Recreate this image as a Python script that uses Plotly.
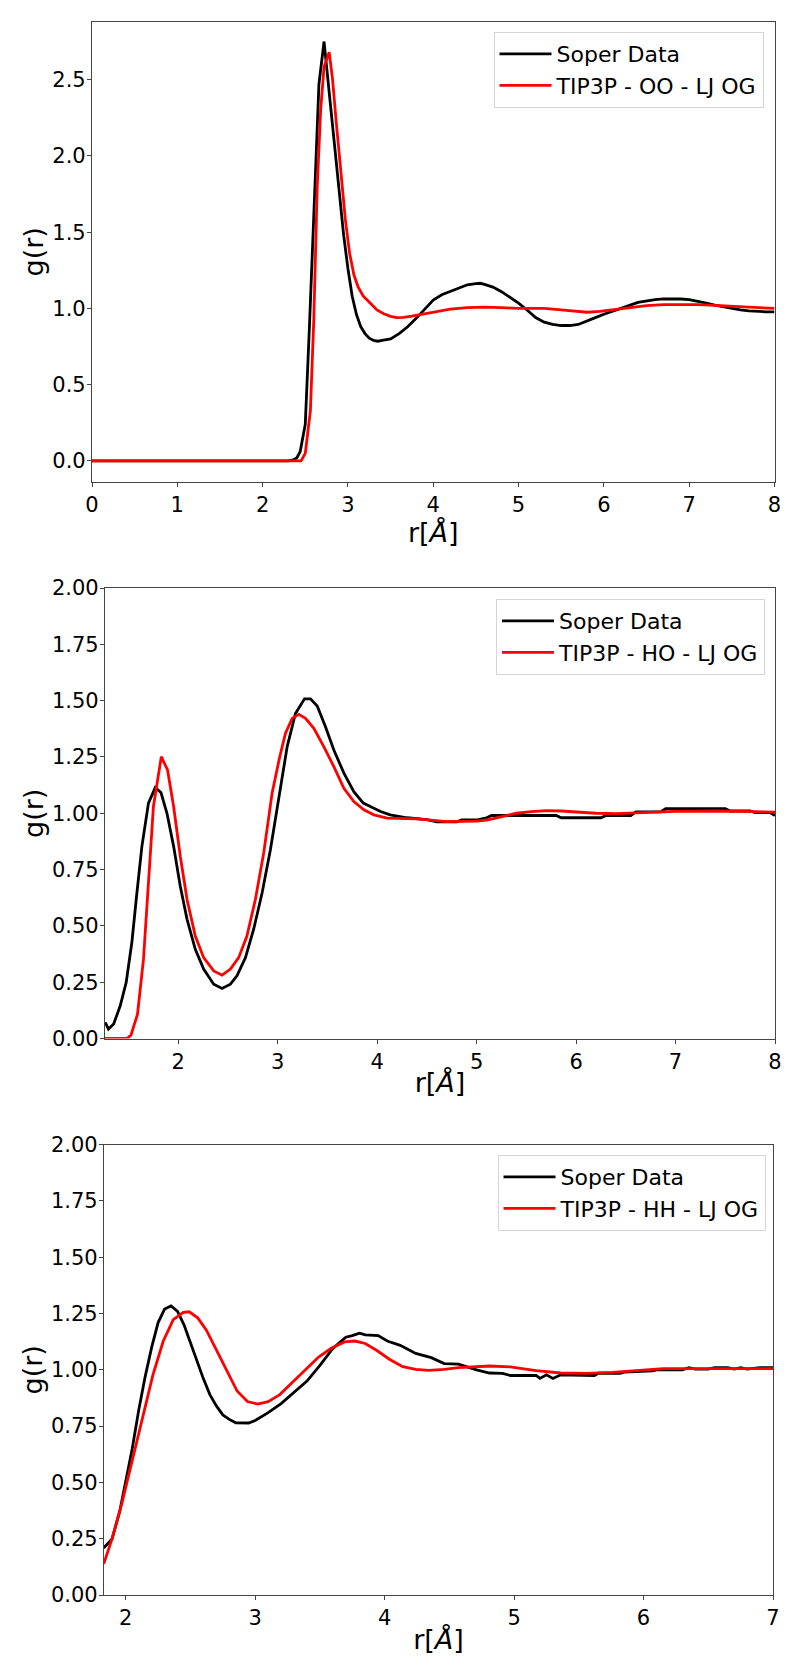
import plotly.graph_objects as go

# ---------------- Panel 1 : O-O ----------------
oo_soper_r = [0.0, 2.3, 2.35, 2.4, 2.44, 2.5, 2.55, 2.6, 2.66, 2.72, 2.77, 2.81, 2.86, 2.9, 2.95,
              3.0, 3.05, 3.1, 3.15, 3.2, 3.25, 3.3, 3.35, 3.4, 3.45, 3.5, 3.6, 3.7, 3.8, 3.9,
              4.0, 4.1, 4.2, 4.3, 4.4, 4.5, 4.55, 4.6, 4.7, 4.8, 4.9, 5.0, 5.1, 5.2, 5.3, 5.4,
              5.5, 5.6, 5.7, 5.8, 5.9, 6.0, 6.1, 6.2, 6.3, 6.4, 6.5, 6.6, 6.7, 6.8, 6.9, 7.0,
              7.1, 7.2, 7.3, 7.4, 7.5, 7.6, 7.7, 7.8, 7.9, 8.0]
oo_soper_g = [0.0, 0.0, 0.005, 0.02, 0.06, 0.24, 0.9, 1.6, 2.47, 2.75, 2.47, 2.24, 1.97, 1.75, 1.48,
              1.26, 1.08, 0.96, 0.88, 0.835, 0.805, 0.79, 0.785, 0.79, 0.795, 0.80, 0.835, 0.88, 0.935, 0.995,
              1.055, 1.09, 1.11, 1.135, 1.155, 1.163, 1.165, 1.158, 1.14, 1.11, 1.075, 1.035, 0.99, 0.94, 0.91, 0.895,
              0.888, 0.888, 0.895, 0.915, 0.94, 0.962, 0.98, 1.0, 1.02, 1.04, 1.05, 1.058, 1.063, 1.063, 1.062, 1.058,
              1.048, 1.035, 1.022, 1.01, 1.0, 0.99, 0.984, 0.98, 0.978, 0.978]

oo_tip3p_r = [0.0, 2.45, 2.5, 2.56, 2.6, 2.64, 2.68, 2.72, 2.78, 2.82, 2.86, 2.9, 2.93, 2.97, 3.02,
              3.07, 3.12, 3.18, 3.26, 3.34, 3.42, 3.5, 3.57, 3.65, 3.75, 3.85, 4.0, 4.2, 4.4, 4.6,
              4.8, 5.0, 5.2, 5.3, 5.5, 5.65, 5.8, 5.95, 6.1, 6.3, 6.5, 6.7, 6.9, 7.1, 7.3, 7.5,
              7.7, 8.0]
oo_tip3p_g = [0.0, 0.0, 0.05, 0.33, 0.93, 1.8, 2.3, 2.585, 2.68, 2.5, 2.24, 1.98, 1.80, 1.58, 1.36,
              1.22, 1.14, 1.08, 1.035, 0.99, 0.965, 0.948, 0.94, 0.942, 0.95, 0.96, 0.978, 0.995, 1.005, 1.008,
              1.005, 1.0, 1.0, 1.0, 0.99, 0.98, 0.975, 0.98, 0.99, 1.005, 1.018, 1.025, 1.027, 1.025, 1.02, 1.013,
              1.007, 1.0]

# ---------------- Panel 2 : H-O ----------------
ho_soper_r = [1.265, 1.298, 1.35, 1.416, 1.476, 1.533, 1.584, 1.634, 1.70, 1.768, 1.826, 1.886, 1.953,
              2.02, 2.088, 2.171, 2.255, 2.356, 2.44, 2.524, 2.59, 2.675, 2.758, 2.843, 2.926, 3.01,
              3.095, 3.178, 3.269, 3.329, 3.397, 3.48, 3.564, 3.665, 3.765, 3.86, 3.934, 4.034, 4.13,
              4.3, 4.5, 4.6, 4.8, 4.85, 5.0, 5.1, 5.15, 5.8, 5.85, 6.25, 6.3, 6.55, 6.6, 6.85, 6.9,
              7.5, 7.55, 7.75, 7.8, 7.95, 8.0]
ho_soper_g = [0.072, 0.042, 0.064, 0.145, 0.249, 0.426, 0.647, 0.853, 1.045, 1.114, 1.092, 1.0, 0.853,
              0.676, 0.529, 0.396, 0.308, 0.241, 0.222, 0.241, 0.278, 0.359, 0.485, 0.647, 0.838, 1.06,
              1.296, 1.443, 1.508, 1.508, 1.476, 1.384, 1.281, 1.178, 1.096, 1.045, 1.03, 1.008, 0.993,
              0.98, 0.972, 0.962, 0.962, 0.97, 0.97, 0.98, 0.99, 0.99, 0.98, 0.98, 0.99, 0.99, 1.006, 1.006, 1.02,
              1.02, 1.01, 1.01, 1.003, 1.003, 0.99]

ho_tip3p_r = [1.263, 1.483, 1.524, 1.59, 1.65, 1.70, 1.75, 1.829, 1.892, 1.953, 2.02, 2.088, 2.171,
              2.255, 2.356, 2.44, 2.524, 2.607, 2.69, 2.775, 2.859, 2.943, 3.02, 3.078, 3.145, 3.212,
              3.279, 3.363, 3.463, 3.564, 3.665, 3.765, 3.866, 3.967, 4.1, 4.4, 4.5, 4.7, 5.0, 5.1,
              5.2, 5.3, 5.4, 5.55, 5.7, 5.85, 6.0, 6.2, 6.4, 6.6, 6.8, 7.0, 7.4, 7.7, 8.0]
ho_tip3p_g = [0.0, 0.0, 0.015, 0.108, 0.352, 0.69, 1.03, 1.251, 1.192, 1.03, 0.809, 0.617, 0.455,
              0.359, 0.30, 0.281, 0.308, 0.359, 0.455, 0.617, 0.824, 1.089, 1.251, 1.355, 1.421, 1.439,
              1.421, 1.377, 1.296, 1.207, 1.111, 1.052, 1.015, 0.993, 0.978, 0.975, 0.97, 0.963, 0.965, 0.97,
              0.98, 0.99, 1.0, 1.007, 1.012, 1.01, 1.005, 1.0, 0.998, 1.0, 1.005, 1.008, 1.01, 1.008, 1.005]

# ---------------- Panel 3 : H-H ----------------
hh_soper_r = [1.83, 1.894, 1.953, 2.0, 2.05, 2.1, 2.15, 2.2, 2.25, 2.3, 2.35, 2.4, 2.45, 2.5, 2.55,
              2.6, 2.65, 2.7, 2.75, 2.8, 2.85, 2.9, 2.95, 3.0, 3.1, 3.2, 3.3, 3.4, 3.5, 3.55, 3.6, 3.65,
              3.7, 3.75, 3.806, 3.85, 3.9, 3.95, 4.02, 4.12, 4.24, 4.36, 4.46, 4.57, 4.71, 4.81, 4.91,
              4.97, 5.17, 5.2, 5.25, 5.3, 5.36, 5.62, 5.65, 5.82, 5.85, 6.07, 6.1, 6.3, 6.35, 6.4,
              6.5, 6.55, 6.65, 6.7, 6.75, 6.8, 6.9, 7.0]
hh_soper_g = [0.209, 0.249, 0.37, 0.50, 0.65, 0.82, 0.97, 1.10, 1.21, 1.27, 1.284, 1.26, 1.20, 1.12, 1.04,
              0.96, 0.89, 0.84, 0.80, 0.78, 0.765, 0.764, 0.764, 0.775, 0.81, 0.85, 0.90, 0.95, 1.02, 1.06, 1.095, 1.12,
              1.145, 1.152, 1.163, 1.155, 1.152, 1.152, 1.128, 1.109, 1.073, 1.054, 1.028, 1.025, 1.0, 0.986, 0.984,
              0.975, 0.975, 0.962, 0.978, 0.962, 0.978, 0.975, 0.985, 0.985, 0.99, 0.995, 1.0, 1.0, 1.01, 1.003,
              1.003, 1.01, 1.01, 1.003, 1.01, 1.003, 1.01, 1.01]

hh_tip3p_r = [1.83, 1.894, 1.97, 2.05, 2.13, 2.21, 2.29, 2.367, 2.445, 2.49, 2.556, 2.623, 2.70, 2.78,
              2.86, 2.94, 3.02, 3.1, 3.19, 3.29, 3.39, 3.49, 3.59, 3.69, 3.77, 3.85, 3.94, 4.04, 4.14,
              4.24, 4.34, 4.46, 4.57, 4.81, 4.97, 5.17, 5.36, 5.56, 5.76, 5.95, 6.15, 6.55, 7.0]
hh_tip3p_g = [0.138, 0.249, 0.407, 0.597, 0.788, 0.978, 1.128, 1.223, 1.255, 1.258, 1.231, 1.176, 1.089, 0.994,
              0.906, 0.859, 0.848, 0.859, 0.89, 0.946, 1.002, 1.057, 1.097, 1.124, 1.128, 1.117, 1.086, 1.046, 1.014,
              1.002, 0.998, 1.002, 1.01, 1.017, 1.013, 0.997, 0.986, 0.984, 0.989, 0.998, 1.005, 1.005, 1.005]

legend_labels = [["Soper Data", "TIP3P - OO - LJ OG"],
                 ["Soper Data", "TIP3P - HO - LJ OG"],
                 ["Soper Data", "TIP3P - HH - LJ OG"]]

x_ranges = [[0, 8], [1.263, 8], [1.832, 7]]
y_ranges = [[-0.138, 2.88], [0, 2], [0, 2]]
x_ticks = [list(range(0, 9)), list(range(2, 9)), list(range(2, 8))]
y_ticks = [[0.0, 0.5, 1.0, 1.5, 2.0, 2.5],
           [0.0, 0.25, 0.5, 0.75, 1.0, 1.25, 1.5, 1.75, 2.0],
           [0.0, 0.25, 0.5, 0.75, 1.0, 1.25, 1.5, 1.75, 2.0]]
y_fmt = [".1f", ".2f", ".2f"]

FONT = "DejaVu Sans"
OFF = 8                      # page body margin of the html page
W, H = 800 - 2 * OFF, 1678 - 2 * OFF
# target page-pixel frames (left, right, top, bottom)
frames = [(92, 774.5, 21.7, 482), (105, 775, 588, 1038.5), (104, 773, 1144.7, 1595)]
legend_pos = [(763.5, 32), (765, 599), (765.5, 1155)]

data = [
    (oo_soper_r, oo_soper_g, oo_tip3p_r, oo_tip3p_g),
    (ho_soper_r, ho_soper_g, ho_tip3p_r, ho_tip3p_g),
    (hh_soper_r, hh_soper_g, hh_tip3p_r, hh_tip3p_g),
]


def px(v):
    return (v - OFF) / W


def py(v):
    return 1 - (v - OFF) / H


fig = go.Figure()
layout = dict(width=W, height=H, margin=dict(l=0, r=0, t=0, b=0, autoexpand=False),
              paper_bgcolor="white", plot_bgcolor="white",
              font=dict(family=FONT, color="black"))

for i in range(3):
    sfx = "" if i == 0 else str(i + 1)
    leg = "legend" if i == 0 else f"legend{i + 1}"
    sr, sg, tr, tg = data[i]
    fig.add_trace(go.Scatter(x=sr, y=sg, mode="lines", name=legend_labels[i][0],
                             line=dict(color="black", width=2.8),
                             xaxis="x" + sfx, yaxis="y" + sfx, legend=leg))
    fig.add_trace(go.Scatter(x=tr, y=tg, mode="lines", name=legend_labels[i][1],
                             line=dict(color="#ff0000", width=2.8),
                             xaxis="x" + sfx, yaxis="y" + sfx, legend=leg))
    l, r, t, b = frames[i]
    axis_common = dict(showline=True, mirror=True, linecolor="#444444", linewidth=1.2,
                       ticks="outside", ticklen=4, tickwidth=1.2, tickcolor="#444444",
                       showgrid=False, zeroline=False, automargin=False,
                       tickfont=dict(family=FONT, size=21, color="black"))
    layout["xaxis" + sfx] = dict(axis_common, domain=[px(l), px(r)], range=x_ranges[i],
                                 anchor="y" + sfx, tickvals=x_ticks[i],
                                 title=dict(text="r[<i>Å</i>]", standoff=0,
                                            font=dict(family=FONT, size=27, color="black")))
    layout["yaxis" + sfx] = dict(axis_common, domain=[py(b), py(t)], range=y_ranges[i],
                                 anchor="x" + sfx, tickvals=y_ticks[i], tickformat=y_fmt[i],
                                 ticklabelstandoff=-3,
                                 title=dict(text="g(r)", standoff=0,
                                            font=dict(family=FONT, size=27, color="black")))
    lx, ly = legend_pos[i]
    layout[leg] = dict(x=px(lx), y=py(ly), xanchor="right", yanchor="top",
                       bgcolor="rgba(255,255,255,0.85)", bordercolor="#d5d5d5", borderwidth=1,
                       font=dict(family=FONT, size=22, color="black"),
                       itemwidth=52)

fig.update_layout(**layout)
fig.write_html("out.html")
